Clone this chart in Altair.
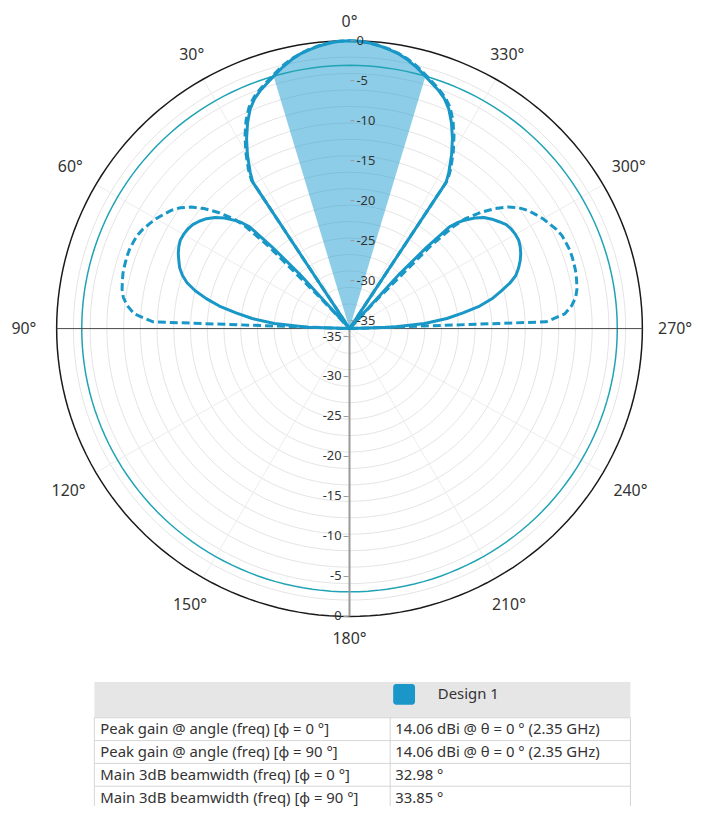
import altair as alt
import pandas as pd

# ---------------- data ----------------
theta_deg = [-90, -88, -86, -84, -82, -80, -78, -76, -74, -72, -70, -68, -66, -64, -62, -60,
             -58, -56, -54, -52, -50, -48, -46, -45, -44, -43, -42, -41, -40, -38, -36, -34,
             -33, -32, -30, -28, -26, -24, -22, -20, -18, -16, -14, -12, -10, -8, -6, -4, -2,
             0, 2, 4, 6, 8, 10, 12, 14, 16, 18, 20, 22, 24, 26, 28, 30, 32, 33, 34, 36, 38,
             40, 41, 42, 43, 44, 45, 46, 48, 50, 52, 54, 56, 58, 60, 62, 64, 66, 68, 70, 72,
             74, 76, 78, 80, 82, 84, 86, 88, 90]

gain_phi0_db = [-40, -30.0, -26.0, -23.3, -21.3, -19.2, -17.6, -16.4, -15.1, -14.1, -13.5, -13.0,
                -12.6, -12.3, -12.1, -12.1, -12.2, -12.4, -12.9, -13.4, -14.0, -14.9, -16.1,
                -16.8, -17.8, -21.5, -26.0, -40, -40, -40, -40, -40,
                -13.8, -12.6, -10.6, -8.8, -7.2, -5.8, -4.8, -4.1, -3.5, -2.85, -2.2, -1.6,
                -1.1, -0.75, -0.45, -0.2, -0.05,
                0.0, -0.05, -0.2, -0.45, -0.75, -1.1, -1.6, -2.2, -2.85, -3.5, -4.1, -4.8,
                -5.8, -7.2, -8.8, -10.6, -12.6, -13.8, -40, -40, -40,
                -40, -40, -26.0, -21.5, -17.8, -16.8, -16.1, -14.9, -14.0, -13.3, -12.8,
                -12.4, -12.2, -12.1, -12.1, -12.3, -12.6, -13.0, -13.4, -14.0,
                -14.8, -16.0, -17.5, -19.2, -21.3, -23.3, -26.0, -30.0, -40]

gain_phi90_db = [-40, -11.5, -9.2, -8.3, -7.7, -7.4, -7.25, -7.1, -7.05, -7.0, -7.0, -7.1,
                 -7.2, -7.5, -7.9, -8.3, -8.8, -9.3, -10.0, -11.0, -12.3, -13.9, -15.8,
                 -17.5, -21.0, -30.0, -40, -40, -40, -40, -40, -40,
                 -13.5, -12.2, -10.2, -8.4, -6.8, -5.5, -4.6, -3.95, -3.35, -2.7, -2.05, -1.5,
                 -1.05, -0.7, -0.4, -0.2, -0.05,
                 0.0, -0.05, -0.2, -0.4, -0.7, -1.05, -1.5, -2.05, -2.7, -3.35, -3.95, -4.6,
                 -5.5, -6.8, -8.4, -10.2, -12.2, -13.5, -40, -40, -40,
                 -40, -40, -40, -30.0, -21.0, -17.5, -15.8, -13.9, -12.3, -11.0, -10.0,
                 -9.3, -8.8, -8.3, -7.9, -7.5, -7.2, -7.1, -7.0, -7.0,
                 -7.05, -7.1, -7.25, -7.4, -7.7, -8.3, -9.2, -11.5, -40]

radial_ticks = [0, -5, -10, -15, -20, -25, -30, -35]
grid_rings = [-2, -4, -6, -8, -10, -12, -14, -16, -18, -20, -22, -24, -26, -28, -30, -32, -34]
half_power_level = -3
angle_ticks = [0, 30, 60, 90, 120, 150, 180, 210, 240, 270, 300, 330]
spoke_angles = [30, 60, 120, 150, 210, 240, 300, 330]

legend_label = "Design 1"
table_rows = ["Peak gain @ angle (freq) [φ = 0 °]",
              "Peak gain @ angle (freq) [φ = 90 °]",
              "Main 3dB beamwidth (freq) [φ = 0 °]",
              "Main 3dB beamwidth (freq) [φ = 90 °]"]
table_values = ["14.06 dBi @ θ = 0 ° (2.35 GHz)",
                "14.06 dBi @ θ = 0 ° (2.35 GHz)",
                "32.98 °",
                "33.85 °"]
beamwidth_phi0 = 32.98

# ---------------- layout ----------------
R_MIN = -35
KX = 295 / 35.0     # px per dB horizontally
KY = 290 / 35.0     # px per dB vertically
W, H = 685, 644
CX, CY = 344, 320
XD = [-CX / KX, (W - CX) / KX]
YD = [-(H - CY) / KY, CY / KY]

LINE_C = "#1997c6"
FONT = "Noto Sans"

xs = alt.Scale(domain=XD, nice=False, zero=False)
ys = alt.Scale(domain=YD, nice=False, zero=False)
X = alt.X("x:Q", scale=xs, axis=None)
Y = alt.Y("y:Q", scale=ys, axis=None)

POLAR_X = "-datum.r * sin(datum.a * PI / 180)"
POLAR_Y = "datum.r * cos(datum.a * PI / 180)"

# curves
curves_df = pd.concat([
    pd.DataFrame({"a": theta_deg, "db": gain_phi0_db, "series": "phi0"}),
    pd.DataFrame({"a": theta_deg, "db": gain_phi90_db, "series": "phi90"}),
])
curve_base = alt.Chart(curves_df).transform_calculate(
    r=f"max(datum.db, {R_MIN}) - ({R_MIN})"
).transform_calculate(x=POLAR_X, y=POLAR_Y)

solid = curve_base.transform_filter("datum.series == 'phi0'").mark_line(
    color=LINE_C, strokeWidth=3, strokeJoin="round").encode(x=X, y=Y, order=alt.Order("a:Q"))
dashed = curve_base.transform_filter("datum.series == 'phi90'").mark_line(
    color=LINE_C, strokeWidth=3, strokeDash=[8, 4]).encode(x=X, y=Y, order=alt.Order("a:Q"))

# beamwidth wedge fill
half_bw = beamwidth_phi0 / 2.0
fill_a = [-half_bw] + [t for t in theta_deg if abs(t) < half_bw] + [half_bw]
fill_db = [half_power_level] + [g for t, g in zip(theta_deg, gain_phi0_db) if abs(t) < half_bw] + [half_power_level]
fill_df = pd.DataFrame({"a": fill_a, "db": fill_db})
wedge = alt.Chart(fill_df).transform_calculate(
    r=f"max(datum.db, {R_MIN}) - ({R_MIN})"
).transform_calculate(x=POLAR_X, y=POLAR_Y).transform_calculate(
    ybot=f"abs(datum.x) * cos({half_bw} * PI / 180) / sin({half_bw} * PI / 180)"
).mark_area(color="#1c9bd0", opacity=0.5).encode(x=X, y=Y, y2="ybot:Q")

# rings
ring_angles = list(range(0, 361, 2))
def ring_frame(levels):
    return pd.DataFrame([{"level": lv, "a": a} for lv in levels for a in ring_angles])

def ring_layer(levels, color, width):
    return alt.Chart(ring_frame(levels)).transform_calculate(
        r=f"datum.level - ({R_MIN})"
    ).transform_calculate(x=POLAR_X, y=POLAR_Y).mark_line(
        color=color, strokeWidth=width).encode(
        x=X, y=Y, detail="level:N", order=alt.Order("a:Q"))

grid = ring_layer(grid_rings, "#e4e4e4", 1)
hp_ring = ring_layer([half_power_level], "#1fa3b5", 1.5)
outer_ring = ring_layer([0], "#1a1a1a", 1.5)

# spokes and axes
def spoke_layer(angles, color, width):
    return alt.Chart(pd.DataFrame({"a": angles})).transform_calculate(
        r=f"0 - ({R_MIN})"
    ).transform_calculate(x=POLAR_X, y=POLAR_Y, x0="0", y0="0").mark_rule(
        color=color, strokeWidth=width).encode(
        x=alt.X("x0:Q", scale=xs, axis=None), y=alt.Y("y0:Q", scale=ys, axis=None),
        x2="x:Q", y2="y:Q")

spokes = spoke_layer(spoke_angles, "#ececec", 1)
h_axis = spoke_layer([90, 270], "#4a4a4a", 1)
v_axis = spoke_layer([180], "#999999", 2)

# radial ticks and labels
rt_df = pd.DataFrame({"v": radial_ticks, "label": [str(v) for v in radial_ticks]})
rt_base = alt.Chart(rt_df).transform_calculate(
    rp=f"8 + (datum.v - ({R_MIN})) * 282 / 35"
).transform_calculate(
    yu=f"datum.rp / {KY}", yl=f"-datum.rp / {KY}",
    xlu=f"7 / {KX}", xll=f"-8 / {KX}",
    tu0=f"1 / {KX}", tu1=f"5 / {KX}", tl0=f"-6 / {KX}", tl1=f"-1 / {KX}",
)
up_ticks = rt_base.mark_rule(color="#999999", strokeWidth=1).encode(
    x=alt.X("tu0:Q", scale=xs, axis=None), x2="tu1:Q", y=alt.Y("yu:Q", scale=ys, axis=None))
lo_ticks = rt_base.mark_rule(color="#999999", strokeWidth=1).encode(
    x=alt.X("tl0:Q", scale=xs, axis=None), x2="tl1:Q", y=alt.Y("yl:Q", scale=ys, axis=None))
up_labels = rt_base.mark_text(align="left", baseline="middle", font=FONT, fontSize=13,
                              color="#333333").encode(
    x=alt.X("xlu:Q", scale=xs, axis=None), y=alt.Y("yu:Q", scale=ys, axis=None), text="label:N")
lo_labels = rt_base.mark_text(align="right", baseline="middle", font=FONT, fontSize=13,
                              color="#333333").encode(
    x=alt.X("xll:Q", scale=xs, axis=None), y=alt.Y("yl:Q", scale=ys, axis=None), text="label:N")

# angle labels
at_df = pd.DataFrame({"a": angle_ticks, "label": [f"{a}°" for a in angle_ticks]})
angle_labels = alt.Chart(at_df).transform_calculate(
    s="sin(datum.a * PI / 180)", c="cos(datum.a * PI / 180)"
).transform_calculate(
    d="311 + 17 * abs(datum.s) - 2 * datum.c"
).transform_calculate(
    x=f"-datum.d * datum.s / {KX}", y=f"datum.d * datum.c / {KY}"
).mark_text(align="center", baseline="middle", font=FONT, fontSize=16, color="#333333").encode(
    x=X, y=Y, text="label:N")

polar = alt.layer(
    grid, spokes, wedge, hp_ring, outer_ring, h_axis, v_axis,
    solid, dashed, up_ticks, lo_ticks, up_labels, lo_labels, angle_labels
).properties(width=W, height=H)

# ---------------- table ----------------
T_TOP, T_BOTTOM = 684, 809
HEAD_BOTTOM = 720
ROW_H = 23
T_LEFT, T_SPLIT, T_RIGHT = 95, 393, 635
TFONT = 15
txs = alt.Scale(domain=[8, 8 + W], nice=False, zero=False)
tys = alt.Scale(domain=[T_BOTTOM, T_TOP], nice=False, zero=False)
one = pd.DataFrame({"k": [0]})

header_bg = alt.Chart(one).mark_rect(color="#e6e6e6").encode(
    x=alt.X(datum=T_LEFT, scale=txs, axis=None), x2=alt.X2(datum=T_RIGHT),
    y=alt.Y(datum=T_TOP, scale=tys, axis=None), y2=alt.Y2(datum=HEAD_BOTTOM))
legend_sq = alt.Chart(one).mark_rect(color="#1a96c8", cornerRadius=3).encode(
    x=alt.X(datum=396, scale=txs, axis=None), x2=alt.X2(datum=418),
    y=alt.Y(datum=686, scale=tys, axis=None), y2=alt.Y2(datum=707))
legend_tx = alt.Chart(pd.DataFrame({"t": [legend_label]})).mark_text(
    align="left", baseline="middle", font=FONT, fontSize=TFONT, color="#333333").encode(
    x=alt.X(datum=441, scale=txs, axis=None), y=alt.Y(datum=696.5, scale=tys, axis=None), text="t:N")

rows_df = pd.DataFrame({"i": list(range(len(table_rows))), "label": table_rows, "value": table_values})
rows_base = alt.Chart(rows_df).transform_calculate(
    yc=f"{HEAD_BOTTOM} + {ROW_H} * (datum.i + 0.5)",
    yl=f"{HEAD_BOTTOM} + {ROW_H} * datum.i",
)
row_lines = rows_base.mark_rule(color="#d6d6d6", strokeWidth=1).encode(
    x=alt.X(datum=T_LEFT, scale=txs, axis=None), x2=alt.X2(datum=T_RIGHT),
    y=alt.Y("yl:Q", scale=tys, axis=None))
col_lines = alt.Chart(pd.DataFrame({"xc": [T_LEFT, T_SPLIT, T_RIGHT]})).mark_rule(
    color="#d6d6d6", strokeWidth=1).encode(
    x=alt.X("xc:Q", scale=txs, axis=None),
    y=alt.Y(datum=HEAD_BOTTOM, scale=tys, axis=None), y2=alt.Y2(datum=T_BOTTOM))
row_labels = rows_base.mark_text(align="left", baseline="middle", font=FONT, fontSize=TFONT,
                                 color="#333333").encode(
    x=alt.X(datum=101, scale=txs, axis=None), y=alt.Y("yc:Q", scale=tys, axis=None), text="label:N")
row_values = rows_base.mark_text(align="left", baseline="middle", font=FONT, fontSize=TFONT,
                                 color="#333333").encode(
    x=alt.X(datum=398, scale=txs, axis=None), y=alt.Y("yc:Q", scale=tys, axis=None), text="value:N")

table = alt.layer(header_bg, legend_sq, legend_tx, row_lines, col_lines, row_labels, row_values
                  ).properties(width=W, height=T_BOTTOM - T_TOP)

chart = alt.vconcat(polar, table, spacing=T_TOP - (8 + H)).properties(padding=0).configure_view(strokeWidth=0)
chart.save("out.html", embed_options={"renderer": "svg", "actions": False})
